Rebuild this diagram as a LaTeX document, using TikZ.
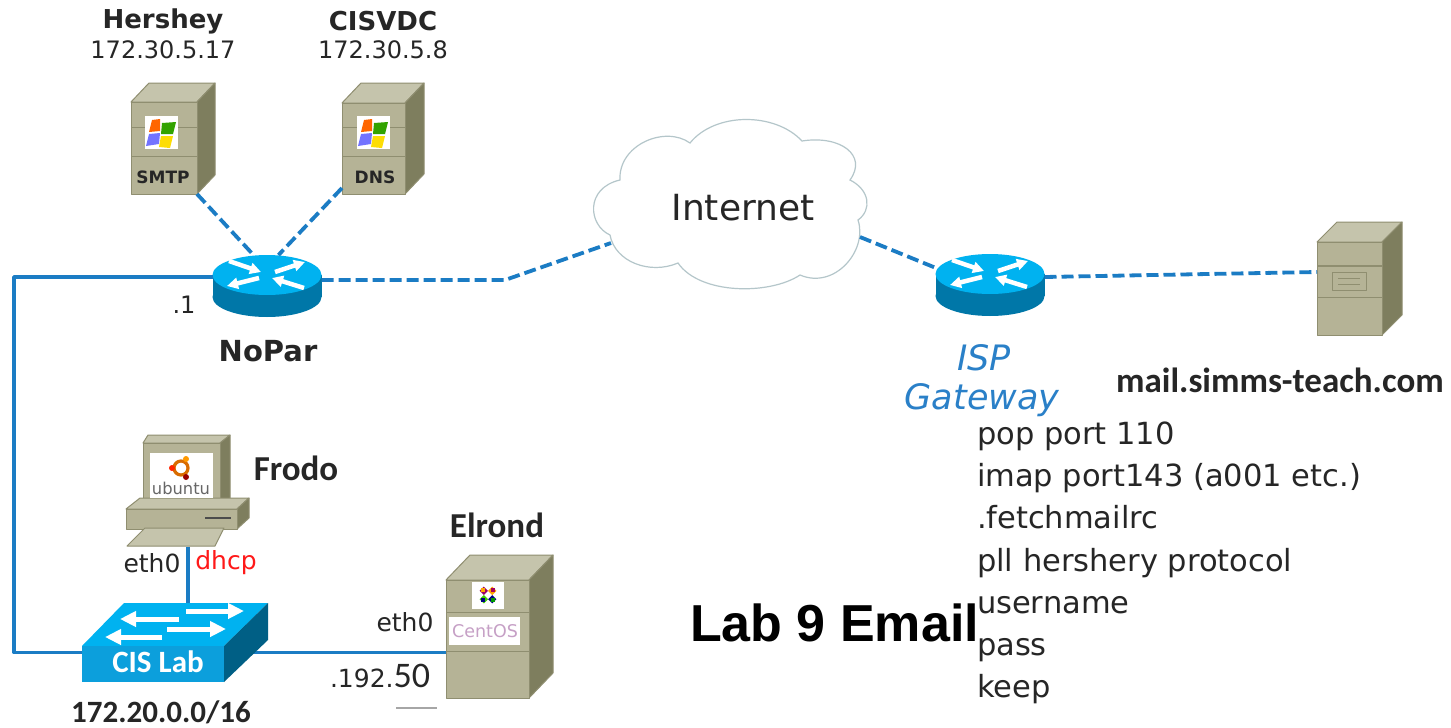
\documentclass[tikz,border=0pt]{standalone}
\usepackage{fontspec}
\setmainfont{DejaVu Sans}
\newfontfamily\carlito{Carlito}
\newfontfamily\arialf{Liberation Sans}
\usetikzlibrary{arrows.meta}
\definecolor{wire}{HTML}{1B7CC4}
\definecolor{srvfront}{HTML}{B5B396}
\definecolor{srvtop}{HTML}{C5C4AC}
\definecolor{srvside}{HTML}{7E7E5E}
\definecolor{srvedge}{HTML}{8F8E70}
\definecolor{ciscotop}{HTML}{00B2F0}
\definecolor{ciscoside}{HTML}{0077A8}
\definecolor{swfront}{HTML}{0C9FDC}
\definecolor{swside}{HTML}{005F85}
\definecolor{isp}{HTML}{2A80C8}
\definecolor{cloudline}{HTML}{B4C6CA}
\newcommand{\fsz}[1]{\fontsize{#1}{#1}\selectfont}
\tikzset{
  x=1pt,y=-1pt,
  hold/.style={inner sep=0pt,outer sep=0pt,draw=none,fill=none,rectangle},
  solidwire/.style={draw=wire,line width=3.8pt,line join=round},
  dashwire/.style={solidwire,dash pattern=on 12pt off 5pt},
  srvline/.style={draw=srvedge,line width=1pt,line join=round},
  txt/.style={inner sep=0pt,outer sep=0pt,text=black!85},
  normal/.style={txt,font=\fsz{24}},
  boldlabel/.style={txt,font=\carlito\bfseries\fsz{35}},
  boldwide/.style={txt,font=\bfseries\fsz{26}},
  listitem/.style={txt,anchor=base west,font=\fsz{30.5}},
  whitearrow/.style={draw=white,line width=4.5pt,-{Triangle[width=11pt,length=11pt]}},
  swarrow/.style={draw=white,line width=5pt,-{Triangle[width=15pt,length=16pt]}},
}
\newcommand{\Cube}[7]{%
  \begin{scope}[shift={(#2,#3)}]
    \filldraw[fill=srvtop,srvline] (0,0)--(#6,-#7)--(#4+#6,-#7)--(#4,0)--cycle;
    \filldraw[fill=srvside,srvline] (#4,0)--(#4+#6,-#7)--(#4+#6,#5-#7)--(#4,#5)--cycle;
    \filldraw[fill=srvfront,srvline] (0,0) rectangle (#4,#5);
    \node[hold,minimum width=#4pt,minimum height=#5pt,anchor=north west] (#1) at (0,0) {};
  \end{scope}}
\newcommand{\Router}[3]{%
  \begin{scope}[shift={(#2,#3)}]
    \fill[ciscoside] (0,22) ellipse[x radius=54.5,y radius=20];
    \fill[ciscoside] (-54.5,0) rectangle (54.5,22);
    \fill[ciscotop] (0,0) ellipse[x radius=54.5,y radius=20];
    \draw[whitearrow] (8,-3)--(38,-13);
    \draw[whitearrow] (-8,3)--(-40,11);
    \draw[whitearrow] (-38,-14)--(-6,-3);
    \draw[whitearrow] (37,13)--(5,3);
    \node[hold,minimum width=109pt,minimum height=62pt] (#1) at (0,11) {};
  \end{scope}}
\newcommand{\WinLogo}[2]{%
  \begin{scope}[shift={(#1,#2)}]
    \fill[white] (0,0) rectangle (33,33);
    \fill[orange!80!red] (7,4)--(15,3)--(15,15)--(4,16)--cycle;
    \fill[green!55!black!80!yellow] (17,7)--(31,6)--(28,18)--(16,18)--cycle;
    \fill[blue!55!white] (4,18)--(15,17)--(14,28)--(1,30)--cycle;
    \fill[yellow!80!orange] (16,20)--(28,20)--(25,32)--(14,31)--cycle;
  \end{scope}}
\begin{document}
\begin{tikzpicture}
\useasboundingbox (0,0) rectangle (1451,728);
\fill[white] (0,0) rectangle (1451,728);

% cloud
\filldraw[fill=white,draw=cloudline,line width=1.2pt] (610,235)
  .. controls (588,225) and (585,188) .. (620,180)
  .. controls (618,145) and (665,125) .. (690,143)
  .. controls (715,112) and (775,112) .. (802,141)
  .. controls (840,135) and (868,155) .. (850,180)
  .. controls (870,190) and (872,210) .. (858,220)
  .. controls (868,250) and (835,290) .. (800,275)
  .. controls (770,295) and (700,295) .. (678,263)
  .. controls (650,275) and (615,262) .. (610,235);
\node[txt,font=\fsz{36}] (inet) at (743,208) {Internet};
\coordinate (cloudL) at (611,243);
\coordinate (cloudR) at (860,237);
\coordinate (bend) at (505,280);

% servers
\Cube{hershey}{131}{102}{66}{92}{18}{19}
\draw[srvline] (131,127)--(197,127) (131,156)--(197,156);
\WinLogo{145}{116}
\node[txt,font=\bfseries\fsz{17}] (smtp) at (163,177) {SMTP};

\Cube{cisvdc}{342}{103}{63}{91}{19}{20}
\draw[srvline] (342,127)--(405,127) (342,156)--(405,156);
\WinLogo{357}{116}
\node[txt,font=\bfseries\fsz{17}] (dns) at (375,177) {DNS};

\Cube{mailsrv}{1317}{242}{65}{93}{20}{20}
\draw[srvedge,line width=2pt] (1317,266)--(1382,266);
\draw[srvline] (1317,297)--(1382,297);
\draw[srvline] (1332,272) rectangle (1366,290);
\draw[srvedge,line width=.8pt] (1338,278)--(1360,278) (1338,284)--(1360,284);

\Cube{elrond}{446}{580}{83}{118}{24}{25}
\draw[srvline] (446,612)--(529,612) (446,651)--(529,651);
\fill[white] (472,582) rectangle (504,609);
\fill[white] (449,617) rectangle (520,645);
\begin{scope}[shift={(488,595)}]
  \fill[green!70!yellow!80!black,rotate=45] (-9,-3) rectangle (-3,3);
  \fill[violet!80!red,rotate=45] (-3,-9) rectangle (3,-3);
  \fill[orange!70!yellow,rotate=45] (3,-3) rectangle (9,3);
  \fill[blue!50!black,rotate=45] (-3,3) rectangle (3,9);
  \fill[orange!70!yellow] (-7,-7) rectangle (-3,-3);
  \fill[violet!70!red] (3,-7) rectangle (7,-3);
  \fill[blue!50!black] (-7,3) rectangle (-3,7);
  \fill[green!60!black] (3,3) rectangle (7,7);
\end{scope}
\node[txt,text=violet!35!white!85!gray,font=\fsz{17.5}] (centos) at (485,631) {CentOS};

% routers
\Router{nopar}{267}{275}
\Router{ispgw}{990}{274}

% PC
\filldraw[fill=srvtop,srvline] (143,443)--(148,435)--(230,435)--(220,443)--cycle;
\filldraw[fill=srvside,srvline] (220,443)--(230,435)--(230,498)--(220,505)--cycle;
\filldraw[fill=srvfront,srvline] (143,443) rectangle (220,505);
\filldraw[fill=srvtop,srvline] (126,509)--(140,498)--(249,498)--(237,509)--cycle;
\filldraw[fill=srvside,srvline] (237,509)--(249,498)--(249,518)--(237,529)--cycle;
\filldraw[fill=srvfront,srvline] (126,509) rectangle (237,529);
\filldraw[fill=srvtop,srvline] (127,546)--(145,528)--(224,528)--(215,546)--cycle;
\draw[black!70,line width=1.4pt] (205,518)--(231,518);
\fill[white] (150,453) rectangle (213,498);
\begin{scope}[shift={(181,468)}]
  \draw[orange!85!black,line width=3.2pt] (0,0) circle[radius=7];
  \fill[red!70!orange] (-9,0) circle[radius=3];
  \fill[orange!80!yellow] (5,-9) circle[radius=3];
  \fill[red!60!black] (5,9) circle[radius=3];
\end{scope}
\node[txt,text=black!60,font=\fsz{16.3}] (ubuntu) at (181,488) {ubuntu};
\node[hold,minimum width=90pt,minimum height=1pt] (frodo) at (188,546) {};
\node[hold,minimum width=186pt,minimum height=79pt,anchor=north west] (cislab) at (82,603) {};

% connectors
\draw[dashwire] (hershey.south east)--([xshift=-13.5pt]nopar.north);
\draw[dashwire] ([yshift=-39.5pt]cisvdc.west)--([xshift=11.5pt]nopar.north);
\draw[dashwire] ([yshift=6pt]nopar.east)--(bend)--(cloudL);
\draw[dashwire] (cloudR)--([yshift=-14pt,xshift=-54pt]ispgw.north);
\draw[dashwire] ([yshift=8pt]ispgw.east)--([yshift=16.5pt]mailsrv.west);
\draw[solidwire] ([yshift=9pt]nopar.west)--(14,277)--(14,652.5)--([yshift=-10pt]cislab.west);
\draw[solidwire] (frodo.south)--(frodo.south|-cislab.north);
\draw[solidwire] ([yshift=-10pt]cislab.center)--([yshift=-13.5pt]elrond.west);

% switch
\fill[ciscotop] (82,646)--(224,646)--(268,603)--(124,603)--cycle;
\fill[swside] (224,646)--(268,603)--(268,640)--(224,682)--cycle;
\fill[swfront] (82,646) rectangle (224,682);
\draw[swarrow] (186,611)--(244,611);
\draw[swarrow] (179,619)--(120,619);
\draw[swarrow] (167,629)--(226,629);
\draw[swarrow] (162,637)--(105,637);
\node[txt,text=white,font=\carlito\bfseries\fsz{31}] (cislabtxt) at (158,662) {CIS Lab};

% labels
\node[boldwide] (lh) at (163,21) {Hershey};
\node[normal] (ih) at (163,50) {172.30.5.17};
\node[boldwide] (lc) at (383,21) {CISVDC};
\node[normal] (ic) at (383,50) {172.30.5.8};
\node[normal] (dot1) at (184,305) {.1};
\node[boldwide,font=\bfseries\fsz{29}] (ln) at (268,351) {NoPar};
\node[txt,text=isp,font=\itshape\fsz{35}] (l1) at (984,358) {ISP};
\node[txt,text=isp,font=\itshape\fsz{35}] (l2) at (982,400) {Gateway};
\node[boldlabel] (lm) at (1280,380) {mail.simms-teach.com};
\node[boldlabel] (lf) at (296,468) {Frodo};
\node[boldlabel] (le) at (497,525) {Elrond};
\node[normal,font=\fsz{25}] (e1) at (152,563) {eth0};
\node[txt,text=red!90!white,font=\fsz{25}] (dh) at (226,563) {dhcp};
\node[normal,font=\fsz{25}] (e2) at (405,622) {eth0};
\node[boldlabel,font=\carlito\bfseries\fsz{31}] (net) at (161,712) {172.20.0.0/16};
\node[txt,anchor=base west,font=\fsz{25}] (ip) at (330,687) {.192.{\carlito\fsz{36}50}};
\draw[gray!70,line width=1.4pt] (396,708)--(437,708);
\node[txt,anchor=base west,text=black,font=\arialf\bfseries\fsz{52}] (lab) at (690,641) {Lab 9 Email};
\node[listitem] (p1) at (977,444) {pop port 110};
\node[listitem] (p2) at (977,486) {imap port143 (a001 etc.)};
\node[listitem] (p3) at (977,528) {.fetchmailrc};
\node[listitem] (p4) at (977,571) {pll hershery protocol};
\node[listitem] (p5) at (977,613) {username};
\node[listitem] (p6) at (977,655) {pass};
\node[listitem] (p7) at (977,697) {keep};
\end{tikzpicture}
\end{document}
